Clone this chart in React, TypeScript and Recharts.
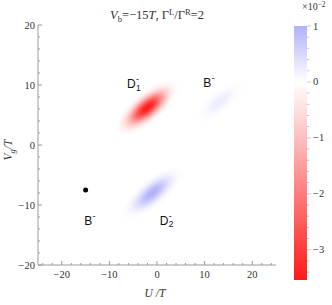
import React from 'react';
import { ScatterChart, Scatter, XAxis, YAxis, BarChart, Bar } from 'recharts';

// axis ticks (U/T horizontal, Vg/T vertical), minor every 2
const uTicks = [-24, -22, -20, -18, -16, -14, -12, -10, -8, -6, -4, -2, 0, 2, 4, 6, 8, 10, 12, 14, 16, 18, 20, 22, 24];
const uLabels = [-20, -10, 0, 10, 20];
const vgTicks = [-20, -18, -16, -14, -12, -10, -8, -6, -4, -2, 0, 2, 4, 6, 8, 10, 12, 14, 16, 18, 20];
const vgLabels = [-20, -10, 0, 10, 20];

// colour bar (values in units of 10^-2)
const cbMin = -3.54;
const cbMax = 1.0;
const cbTicks = [-3.4, -3.2, -3, -2.8, -2.6, -2.4, -2.2, -2, -1.8, -1.6, -1.4, -1.2, -1, -0.8, -0.6, -0.4, -0.2, 0, 0.2, 0.4, 0.6, 0.8, 1];
const cbLabels = [-3, -2, -1, 0, 1];

// peaks of the density plot
const blobU = [-2.1, 13.2, -1.0];
const blobVg = [6.2, 7.2, -8.0];
const blobPeak = [-3.54, 0.25, 1.0];

// text annotations in the plot
const labelText = ['D', 'B', 'B', 'D'];
const labelSub = ['1', '', '', '2'];
const labelU = [-6.3, 9.7, -15.3, 0.6];
const labelVg = [9.5, 9.7, -13.3, -13.3];

// marked point
const pointU = [-15];
const pointVg = [-7.5];

// styles
const RED = [255, 25, 25];
const BLUE = [176, 176, 250];
const blobRx = [40, 33, 40];
const blobRy = [16, 13, 15];
const blobAngle = -40;
const frameColor = '#9a9a9a';
const textColor = '#333';
const serif = '"Liberation Serif", "DejaVu Serif", serif';
const sans = '"Liberation Sans", Arial, sans-serif';

const blobs = blobU.map((u, i) => ({ u, vg: blobVg[i], peak: blobPeak[i], i }));
const labels = labelU.map((u, i) => ({ u, vg: labelVg[i], text: labelText[i], sub: labelSub[i] }));
const points = pointU.map((u, i) => ({ u, vg: pointVg[i] }));
const cbData = [{ name: 'bar', range: [cbMin, cbMax] }];

const colorOf = (v: number) => {
  const c = v < 0 ? RED : BLUE;
  const t = v < 0 ? Math.min(1, v / cbMin) : Math.min(1, v / cbMax);
  const ch = c.map((k) => Math.round(255 + (k - 255) * t));
  return `rgb(${ch[0]},${ch[1]},${ch[2]})`;
};

const fmt = (v: number) => String(v).replace('-', '\u2212');
const isMajor = (v: number, majors: number[]) => majors.some((m) => Math.abs(m - v) < 1e-6);

const BottomTick = (props: any) => {
  const { x, y, payload } = props;
  const major = isMajor(payload.value, uLabels);
  return (
    <g>
      <line x1={x} x2={x} y1={y} y2={y - (major ? 4 : 2)} stroke={frameColor} />
      {major && (
        <text x={x} y={y + 13} textAnchor="middle" fontFamily={serif} fontSize={10.5} fill={textColor}>
          {fmt(payload.value)}
        </text>
      )}
    </g>
  );
};

const TopTick = (props: any) => {
  const { x, y, payload } = props;
  const major = isMajor(payload.value, uLabels);
  return <line x1={x} x2={x} y1={y} y2={y + (major ? 4 : 2)} stroke={frameColor} />;
};

const LeftTick = (props: any) => {
  const { x, y, payload } = props;
  const major = isMajor(payload.value, vgLabels);
  return (
    <g>
      <line x1={x} x2={x + (major ? 4 : 2)} y1={y} y2={y} stroke={frameColor} />
      {major && (
        <text x={x - 3} y={y + 3.5} textAnchor="end" fontFamily={serif} fontSize={10.5} fill={textColor}>
          {fmt(payload.value)}
        </text>
      )}
    </g>
  );
};

const RightTick = (props: any) => {
  const { x, y, payload } = props;
  const major = isMajor(payload.value, vgLabels);
  return <line x1={x} x2={x - (major ? 4 : 2)} y1={y} y2={y} stroke={frameColor} />;
};

const BarTick = (props: any) => {
  const { x, y, payload } = props;
  const major = isMajor(payload.value, cbLabels);
  return (
    <g>
      <line x1={x} x2={x + (major ? 4 : 2.5)} y1={y} y2={y} stroke="#c8c8c8" />
      {major && (
        <text x={x + 6} y={y + 3.5} textAnchor="start" fontFamily={serif} fontSize={10.5} fill={textColor}>
          {fmt(payload.value)}
        </text>
      )}
    </g>
  );
};

const BlobShape = (props: any) => {
  const { cx, cy, payload } = props;
  const i = payload.i;
  const id = `blob-grad-${i}`;
  const stops = [0, 0.1, 0.2, 0.3, 0.4, 0.5, 0.6, 0.7, 0.8, 0.9, 1];
  return (
    <g>
      <defs>
        <radialGradient id={id}>
          {stops.map((r) => (
            <stop key={r} offset={r} stopColor={colorOf(payload.peak)} stopOpacity={Math.exp(-3.4 * r * r) * (1 - r * r * r)} />
          ))}
        </radialGradient>
      </defs>
      <ellipse
        cx={cx}
        cy={cy}
        rx={blobRx[i]}
        ry={blobRy[i]}
        fill={`url(#${id})`}
        transform={`rotate(${blobAngle} ${cx} ${cy})`}
      />
    </g>
  );
};

const LabelShape = (props: any) => {
  const { cx, cy, payload } = props;
  const w = payload.text === 'D' ? 9 : 8.4;
  return (
    <g fontFamily={sans} fill="#111">
      <text x={cx} y={cy} fontSize={12}>{payload.text}</text>
      <text x={cx + w} y={cy - 6} fontSize={9}>-</text>
      {payload.sub && <text x={cx + w} y={cy + 2.5} fontSize={8.5}>{payload.sub}</text>}
    </g>
  );
};

const DotShape = (props: any) => <circle cx={props.cx} cy={props.cy} r={2.5} fill="#000" />;

const BarShape = (props: any) => {
  const { x, y, width, height } = props;
  const zero = cbMax / (cbMax - cbMin);
  return (
    <g>
      <defs>
        <linearGradient id="cb-grad" x1="0" y1="0" x2="0" y2="1">
          <stop offset={0} stopColor={colorOf(cbMax)} />
          <stop offset={zero} stopColor="#ffffff" />
          <stop offset={1} stopColor={colorOf(cbMin)} />
        </linearGradient>
      </defs>
      <rect x={x} y={y} width={width} height={height} fill="url(#cb-grad)" />
    </g>
  );
};

export default function App() {
  return (
    <div style={{ position: 'absolute', left: 0, top: 0, width: 332, height: 305, background: '#fff' }}>
      <div style={{ position: 'absolute', left: 0, top: 0 }}>
        <ScatterChart width={332} height={305} margin={{ top: 25, right: 56, bottom: 0, left: 0 }}>
          <XAxis
            dataKey="u"
            type="number"
            domain={[-25, 25]}
            allowDataOverflow
            ticks={uTicks}
            interval={0}
            height={40}
            tickSize={0}
            tickMargin={0}
            tickLine={false}
            tick={<BottomTick />}
            axisLine={{ stroke: frameColor }}
          />
          <XAxis
            xAxisId="top"
            orientation="top"
            dataKey="u"
            type="number"
            domain={[-25, 25]}
            allowDataOverflow
            ticks={uTicks}
            interval={0}
            height={0}
            tickSize={0}
            tickMargin={0}
            tickLine={false}
            tick={<TopTick />}
            axisLine={{ stroke: frameColor }}
          />
          <YAxis
            dataKey="vg"
            type="number"
            domain={[-20, 20]}
            allowDataOverflow
            ticks={vgTicks}
            interval={0}
            width={38}
            tickSize={0}
            tickMargin={0}
            tickLine={false}
            tick={<LeftTick />}
            axisLine={{ stroke: frameColor }}
          />
          <YAxis
            yAxisId="right"
            orientation="right"
            dataKey="vg"
            type="number"
            domain={[-20, 20]}
            allowDataOverflow
            ticks={vgTicks}
            interval={0}
            width={0}
            tickSize={0}
            tickMargin={0}
            tickLine={false}
            tick={<RightTick />}
            axisLine={{ stroke: frameColor }}
          />
          <Scatter data={blobs} shape={<BlobShape />} isAnimationActive={false} />
          <Scatter data={points} shape={<DotShape />} isAnimationActive={false} />
          <Scatter data={labels} shape={<LabelShape />} isAnimationActive={false} />
        </ScatterChart>
      </div>
      <div style={{ position: 'absolute', left: 280, top: 0 }}>
        <BarChart width={52} height={305} data={cbData} barCategoryGap={0} margin={{ top: 26, right: 0, bottom: 25, left: 14 }}>
          <XAxis dataKey="name" hide />
          <YAxis
            orientation="right"
            type="number"
            domain={[cbMin, cbMax]}
            allowDataOverflow
            ticks={cbTicks}
            interval={0}
            width={25}
            tickSize={0}
            tickMargin={0}
            tickLine={false}
            axisLine={false}
            tick={<BarTick />}
          />
          <Bar dataKey="range" shape={<BarShape />} isAnimationActive={false} />
        </BarChart>
      </div>
      <svg width={332} height={305} style={{ position: 'absolute', left: 0, top: 0, pointerEvents: 'none' }}>
        <text x={157} y={19} textAnchor="middle" fontFamily={serif} fontSize={12.5} fill={textColor}>
          <tspan fontStyle="italic">V</tspan>
          <tspan fontSize={8.5} dy={3}>b</tspan>
          <tspan dy={-3}>{'=\u221215'}</tspan>
          <tspan fontStyle="italic">T</tspan>
          <tspan>{',  \u0393'}</tspan>
          <tspan fontSize={8.5} dy={-4.5}>L</tspan>
          <tspan dy={4.5}>{'/\u0393'}</tspan>
          <tspan fontSize={8.5} dy={-4.5}>R</tspan>
          <tspan dy={4.5}>=2</tspan>
        </text>
        <text x={302} y={10} fontFamily={serif} fontSize={10} fill={textColor}>
          <tspan>{'\u00d710'}</tspan>
          <tspan fontSize={7.5} dy={-3.5}>{'\u22122'}</tspan>
        </text>
        <text x={155} y={297} textAnchor="middle" fontFamily={serif} fontSize={11.5} fontStyle="italic" fill={textColor}>
          U /T
        </text>
        <text
          x={0}
          y={0}
          transform="translate(12 150) rotate(-90)"
          textAnchor="middle"
          fontFamily={serif}
          fontSize={11.5}
          fontStyle="italic"
          fill={textColor}
        >
          <tspan>V</tspan>
          <tspan fontSize={8.5} dy={3}>g</tspan>
          <tspan dy={-3}>/T</tspan>
        </text>
      </svg>
    </div>
  );
}
